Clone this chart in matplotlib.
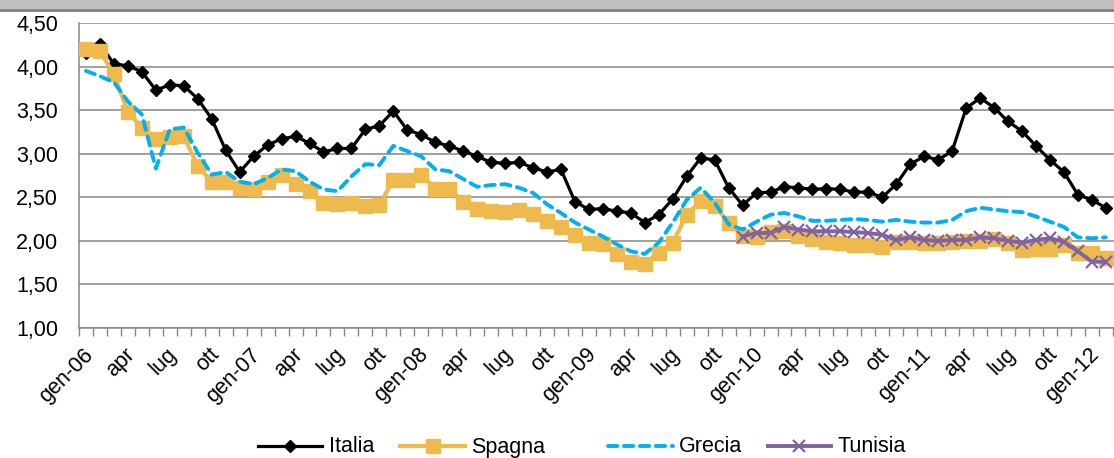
import numpy as np
import matplotlib
matplotlib.use("Agg")
import matplotlib.pyplot as plt
import matplotlib.transforms as mtransforms
from matplotlib.lines import Line2D
from matplotlib.patches import Rectangle

plt.rcParams['font.family'] = ['Liberation Sans', 'DejaVu Sans']

# monthly values, gen-06 .. feb-12
italia = [4.15, 4.26, 4.03, 4.01, 3.94, 3.73, 3.79, 3.78, 3.63, 3.40,
          3.04, 2.79, 2.97, 3.10, 3.17, 3.20, 3.12, 3.02, 3.06, 3.06,
          3.28, 3.32, 3.49, 3.27, 3.22, 3.13, 3.09, 3.03, 2.97, 2.90,
          2.89, 2.90, 2.84, 2.79, 2.82, 2.45, 2.36, 2.37, 2.34, 2.32,
          2.21, 2.30, 2.48, 2.74, 2.95, 2.93, 2.61, 2.41, 2.55, 2.56,
          2.62, 2.61, 2.59, 2.60, 2.59, 2.56, 2.56, 2.50, 2.65, 2.88,
          2.97, 2.93, 3.03, 3.52, 3.64, 3.53, 3.37, 3.26, 3.09, 2.93,
          2.79, 2.53, 2.47, 2.38]
spagna = [4.20, 4.18, 3.91, 3.48, 3.30, 3.17, 3.19, 3.20, 2.86, 2.68,
          2.68, 2.61, 2.60, 2.68, 2.75, 2.65, 2.57, 2.44, 2.42, 2.44,
          2.40, 2.41, 2.70, 2.70, 2.76, 2.60, 2.60, 2.45, 2.37, 2.34,
          2.33, 2.35, 2.31, 2.23, 2.16, 2.07, 1.97, 1.96, 1.85, 1.76,
          1.74, 1.86, 1.98, 2.30, 2.46, 2.40, 2.21, 2.06, 2.05, 2.10,
          2.11, 2.06, 2.02, 1.99, 1.97, 1.95, 1.95, 1.93, 1.99, 1.99,
          1.97, 1.98, 1.99, 2.00, 2.00, 2.02, 1.98, 1.90, 1.91, 1.91,
          1.95, 1.86, 1.86, 1.80]
grecia = [3.95, 3.89, 3.82, 3.60, 3.45, 2.83, 3.28, 3.30, 3.01, 2.76,
          2.79, 2.68, 2.65, 2.72, 2.82, 2.80, 2.68, 2.59, 2.57, 2.74,
          2.88, 2.87, 3.09, 3.03, 2.97, 2.82, 2.80, 2.71, 2.62, 2.64,
          2.65, 2.61, 2.55, 2.42, 2.32, 2.21, 2.13, 2.05, 1.96, 1.88,
          1.85, 1.98, 2.21, 2.47, 2.61, 2.44, 2.19, 2.13, 2.22, 2.30,
          2.32, 2.28, 2.23, 2.23, 2.24, 2.25, 2.24, 2.22, 2.24, 2.22,
          2.21, 2.21, 2.24, 2.34, 2.38, 2.36, 2.34, 2.33, 2.28, 2.22,
          2.16, 2.04, 2.03, 2.04]
# Tunisia from dic-09 onwards
tunisia_start = 47
tunisia = [2.05, 2.09, 2.09, 2.16, 2.13, 2.11, 2.11, 2.11, 2.10, 2.09,
           2.07, 2.01, 2.04, 2.01, 2.00, 2.01, 2.01, 2.04, 2.03, 2.00,
           1.98, 2.01, 2.03, 1.99, 1.88, 1.76, 1.76]

years = ['06', '07', '08', '09', '10', '11', '12']
months = ['gen', 'apr', 'lug', 'ott']
tick_labels = []
for y in years:
    for m in months:
        tick_labels.append(m + '-' + y if m == 'gen' else m)
tick_labels = tick_labels[:25]

names = ['Italia', 'Spagna', 'Grecia', 'Tunisia']
styles = [
    dict(color='black', lw=2.3, marker='D', ms=6),
    dict(color='#EEBA4E', lw=3.0, marker='s', ms=9.5),
    dict(color='#00B0F0', lw=2.8, ls=(0, (2.4, 1.7)), dash_capstyle='round'),
    dict(color='#8064A2', lw=2.8, marker='x', ms=9, mew=1.6),
]

W, H = 1114, 458
FS = 15.5
fig = plt.figure(figsize=(W / 100, H / 100), dpi=100)
ax = fig.add_axes([79 / W, 1 - 328 / H, 1 - 79 / W, (328 - 23) / H])

x = np.arange(len(italia))
xt = np.arange(tunisia_start, tunisia_start + len(tunisia))

ax.plot(x, italia, zorder=3, **styles[0])
ax.plot(x, spagna, zorder=4, **styles[1])
ax.plot(x, grecia, zorder=5, **styles[2])
ax.plot(xt, tunisia, zorder=6, **styles[3])

ax.set_xlim(-0.5, -0.5 + (W - 79) / 13.97)
ax.set_ylim(1, 4.5)

yt = np.arange(1.0, 4.51, 0.5)
ax.set_yticks(yt)
ax.set_yticklabels([('%.2f' % v).replace('.', ',') for v in yt], fontsize=FS)
ax.tick_params(axis='y', length=0, pad=15)
ax.grid(axis='y', color='#868686', lw=1.1)
ax.set_axisbelow(True)

ax.set_xticks(np.arange(0, 73, 3))
ax.set_xticklabels(tick_labels, rotation=45, ha='right', va='center',
                   rotation_mode='anchor', fontsize=FS)
ax.set_xticks(np.arange(-0.5, 74, 1), minor=True)
ax.tick_params(axis='x', which='major', length=0, pad=17)
ax.tick_params(axis='x', which='minor', length=6, width=1, color='#868686')
shift = mtransforms.ScaledTranslation(4 / 100, 0, fig.dpi_scale_trans)
for lab in ax.get_xticklabels():
    lab.set_transform(lab.get_transform() + shift)

for s in ['top', 'right']:
    ax.spines[s].set_visible(False)
for s in ['left', 'bottom']:
    ax.spines[s].set_color('#868686')
    ax.spines[s].set_linewidth(1.1)

# frame strip at the top
fig.patches.append(Rectangle((0, 1 - 9 / H), 1, 9 / H, transform=fig.transFigure,
                             facecolor='#C0C0C0', edgecolor='none'))
fig.lines.append(Line2D([0, 1], [1 - 10 / H, 1 - 10 / H], transform=fig.transFigure,
                        color='#7F7F7F', lw=2))

# legend drawn by hand so the labels share one baseline
leg_lines = [(258, 322), (400, 465), (608, 673), (768, 831)]
leg_text_x = [329, 471, 679, 838]
ly = 1 - 446 / H
for (x0, x1), tx, name, st in zip(leg_lines, leg_text_x, names, styles):
    kw = dict(st)
    kw.pop('marker', None)
    kw.pop('ms', None)
    kw.pop('mew', None)
    fig.lines.append(Line2D([x0 / W, x1 / W], [ly, ly], transform=fig.transFigure, **kw))
    if 'marker' in st:
        fig.lines.append(Line2D([(x0 + x1) / 2 / W], [ly], transform=fig.transFigure,
                                color=st['color'], marker=st['marker'], ms=st['ms'],
                                mew=st.get('mew', 1), ls='none'))
    fig.text(tx / W, 1 - 452.5 / H, name, fontsize=FS, va='baseline', ha='left')

fig.savefig('out.png', dpi=100)
